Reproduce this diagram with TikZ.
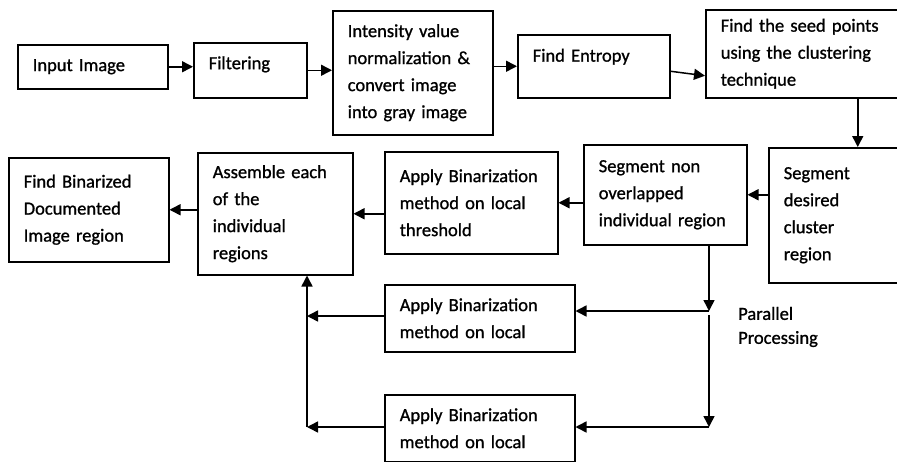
\documentclass[tikz,border=0pt]{standalone}
\usepackage{fontspec}
\newfontfamily\diafont{Carlito}[FakeBold=1]
\usetikzlibrary{arrows.meta}
\tikzset{
  blk/.style={draw, line width=1.5pt, anchor=north west, align=left, inner xsep=15pt, inner ysep=0pt, font=\diafont\fontsize{18.5}{27}\selectfont},
  arr/.style={line width=1.5pt, -{Triangle[length=11pt,width=11pt]}}
}
\begin{document}
\begin{tikzpicture}[x=1pt,y=-1pt]
\useasboundingbox (0,0) rectangle (897,461);
\clip (0,0) rectangle (897,461);
\node[blk, text width=120pt, minimum height=44pt] (inp) at (17,44) {Input Image};
\node[blk, text width=83pt, minimum height=55pt, text depth=15pt] (filt) at (193,42) {Filtering};
\node[blk, text width=130pt, minimum height=124pt] (int) at (332,10) {Intensity value\\normalization \&\\convert image\\into gray image};
\node[blk, text width=122pt, minimum height=63pt, text depth=22pt] (ent) at (517,34) {Find Entropy};
\node[blk, text width=274pt, minimum height=88pt] (seed) at (705,9) {Find the seed points\\using the clustering\\technique};
\node[blk, text width=148pt, minimum height=135pt] (des) at (768,147) {Segment\\desired\\cluster\\region};
\node[blk, text width=133pt, minimum height=100pt] (seg) at (583,144) {Segment non\\overlapped\\individual region};
\node[blk, text width=143pt, minimum height=102pt] (thr) at (384,151) {Apply Binarization\\method on local\\threshold};
\node[blk, text width=125pt, minimum height=122pt] (asm) at (197,152) {Assemble each\\of the\\individual\\regions};
\node[blk, text width=130pt, minimum height=104pt] (bin) at (8,157) {Find Binarized\\Documented\\Image region};
\node[blk, text width=160pt, minimum height=67pt] (appa) at (384,284) {Apply Binarization\\method on local};
\node[blk, text width=160pt, minimum height=67pt] (appb) at (384,394) {Apply Binarization\\method on local};
\node[font=\diafont\fontsize{18.5}{24}\selectfont, align=left, anchor=west, inner sep=0pt] (ppl) at (738,327) {Parallel\\Processing};

\draw[arr] (inp.east) -- (inp.east -| filt.west);
\draw[arr] (filt.east) -- (filt.east -| int.west);
\draw[arr] (int.east |- ent.west) -- (ent.west);
\draw[arr] ([yshift=-5pt]ent.east) -- ([yshift=-22pt]seed.west);
\draw[arr] (seed.south -| des.north) -- (des.north);
\draw[arr] (des.west |- seg.east) -- (seg.east);
\draw[arr] (seg.west |- thr.east) -- (thr.east);
\draw[arr] (thr.west |- asm.east) -- (asm.east);
\draw[arr] (asm.west |- bin.east) -- (bin.east);

\coordinate (pa) at (709,311);
\coordinate (pb) at (709,315);
\coordinate (pc) at (709,427);
\coordinate (cl) at (307,427);
\draw[arr] (seg.south -| pa) -- (pa);
\draw[arr] (pa) -- (pa -| appa.east);
\draw[arr] (pb) -- (pc);
\draw[arr] (pc) -- (pc -| appb.east);
\draw[arr] (appa.west |- 0,316) -- (cl |- 0,316);
\draw[arr] (appb.west |- cl) -- (cl);
\draw[arr] (cl) -- (cl |- asm.south);
\end{tikzpicture}
\end{document}
